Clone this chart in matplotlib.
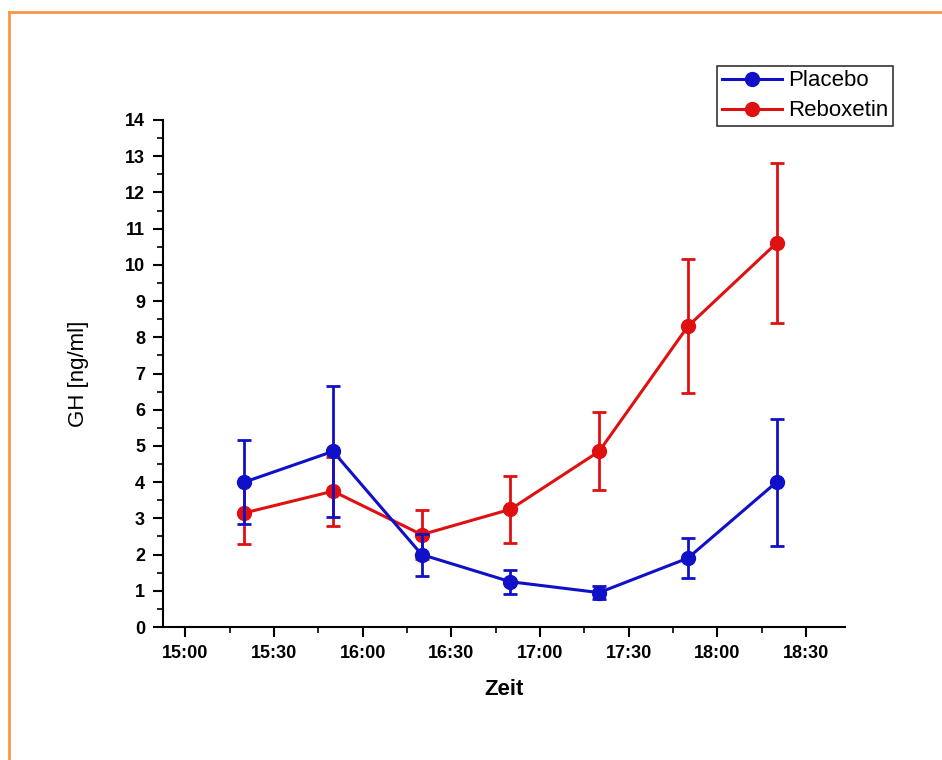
import numpy as np
import matplotlib.pyplot as plt
import matplotlib.dates as mdates
from matplotlib.lines import Line2D
from datetime import datetime

# measurement times (hh:mm)
times = ['15:20', '15:50', '16:20', '16:50', '17:20', '17:50', '18:20']
placebo = [4.0, 4.85, 2.0, 1.25, 0.95, 1.9, 4.0]
placebo_err = [1.15, 1.8, 0.58, 0.33, 0.18, 0.55, 1.75]
reboxetin = [3.15, 3.75, 2.55, 3.25, 4.85, 8.3, 10.6]
reboxetin_err = [0.85, 0.95, 0.68, 0.92, 1.08, 1.85, 2.2]

plt.rcParams['font.family'] = ['Liberation Sans', 'DejaVu Sans']

t = [datetime.strptime('2000-01-01 ' + s, '%Y-%m-%d %H:%M') for s in times]

fig = plt.figure(figsize=(9.42, 7.6), dpi=100)
ax = fig.add_axes([163 / 942, 133 / 760, 682 / 942, 507 / 760])

blue = '#1010c8'
red = '#e01010'
ax.errorbar(t, reboxetin, yerr=reboxetin_err, color=red, lw=2.2, marker='o', ms=10,
            mec=red, capsize=5, capthick=2, elinewidth=2, zorder=3)
ax.errorbar(t, placebo, yerr=placebo_err, color=blue, lw=2.2, marker='o', ms=10,
            mec=blue, capsize=5, capthick=2, elinewidth=2, zorder=4)

ax.set_ylim(0, 14)
ax.set_xlim(datetime(2000, 1, 1, 14, 52, 30), datetime(2000, 1, 1, 18, 43, 10))
ax.set_yticks(range(0, 15))
ax.yaxis.set_minor_locator(plt.MultipleLocator(0.5))
ax.xaxis.set_major_locator(mdates.MinuteLocator(byminute=[0, 30]))
ax.xaxis.set_minor_locator(mdates.MinuteLocator(byminute=[15, 45]))
ax.xaxis.set_major_formatter(mdates.DateFormatter('%H:%M'))

for s in ['top', 'right']:
    ax.spines[s].set_visible(False)
for s in ['left', 'bottom']:
    ax.spines[s].set_linewidth(1.5)
ax.tick_params(which='major', direction='out', length=7, width=1.5, labelsize=13, pad=6)
ax.tick_params(which='minor', direction='out', length=4, width=1.2)
for lab in ax.get_xticklabels() + ax.get_yticklabels():
    lab.set_fontweight('bold')

ax.set_xlabel('Zeit', fontsize=16, fontweight='bold', labelpad=12)
ax.set_ylabel('GH [ng/ml]', fontsize=16, labelpad=26)

handles = [Line2D([0], [0], color=blue, lw=2.2, marker='o', ms=10),
           Line2D([0], [0], color=red, lw=2.2, marker='o', ms=10)]
leg = fig.legend(handles, ['Placebo', 'Reboxetin'], loc='upper right',
                 bbox_to_anchor=(893 / 942, 1 - 66 / 760),
                 fontsize=16, frameon=True, fancybox=False, edgecolor='black',
                 handlelength=2.7, borderpad=0.2, labelspacing=0.4, handletextpad=0.3,
                 borderaxespad=0)
leg.get_frame().set_linewidth(1.2)

# orange frame around the picture
fig.add_artist(Line2D([8.5 / 942, 8.5 / 942], [0, 1 - 11.5 / 760], color='#f79646',
                      lw=2, transform=fig.transFigure))
fig.add_artist(Line2D([8.5 / 942, 1], [1 - 11.5 / 760, 1 - 11.5 / 760], color='#f79646',
                      lw=2, transform=fig.transFigure))

fig.savefig('out.png', dpi=100)
